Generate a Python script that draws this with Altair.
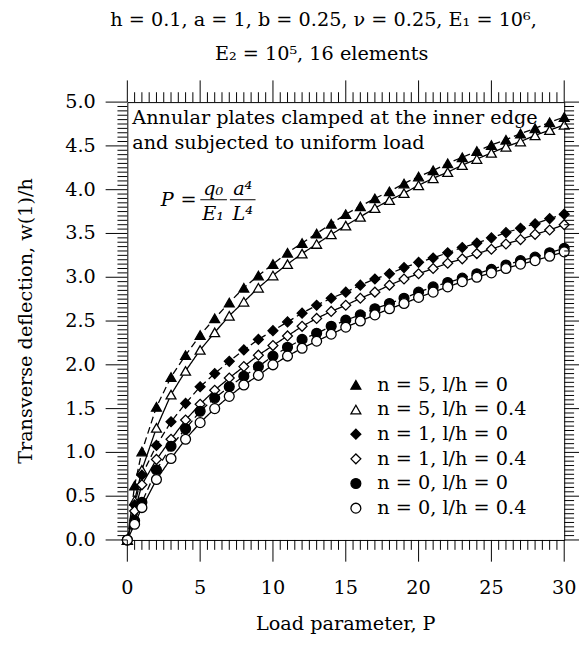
import altair as alt
import pandas as pd

# ---------------- data ----------------
P = [0, 0.5, 1, 2, 3, 4, 5, 6, 7, 8, 9, 10, 11, 12, 13, 14, 15,
     16, 17, 18, 19, 20, 21, 22, 23, 24, 25, 26, 27, 28, 29, 30]

tri_filled = [0, 0.62, 1.01, 1.52, 1.86, 2.11, 2.34, 2.53, 2.71, 2.88, 3.02, 3.15,
              3.28, 3.39, 3.50, 3.61, 3.72, 3.81, 3.90, 3.98, 4.07, 4.15, 4.22,
              4.30, 4.37, 4.44, 4.51, 4.57, 4.64, 4.70, 4.77, 4.83]
tri_open = [0, 0.45, 0.80, 1.28, 1.66, 1.93, 2.17, 2.37, 2.56, 2.72, 2.88, 3.02,
            3.15, 3.27, 3.38, 3.49, 3.59, 3.69, 3.79, 3.88, 3.96, 4.05, 4.13,
            4.20, 4.28, 4.35, 4.42, 4.49, 4.55, 4.62, 4.68, 4.74]
dia_filled = [0, 0.40, 0.74, 1.08, 1.35, 1.56, 1.75, 1.90, 2.04, 2.17, 2.29, 2.39,
              2.49, 2.59, 2.68, 2.76, 2.83, 2.91, 2.98, 3.04, 3.11, 3.17, 3.22,
              3.28, 3.34, 3.39, 3.45, 3.51, 3.56, 3.61, 3.67, 3.72]
dia_open = [0, 0.33, 0.63, 0.92, 1.15, 1.37, 1.55, 1.71, 1.85, 1.98, 2.11, 2.22,
            2.33, 2.44, 2.53, 2.61, 2.68, 2.76, 2.83, 2.91, 2.98, 3.04, 3.10,
            3.16, 3.21, 3.27, 3.32, 3.38, 3.43, 3.49, 3.54, 3.60]
cir_filled = [0, 0.22, 0.43, 0.80, 1.07, 1.27, 1.47, 1.62, 1.75, 1.87, 1.98, 2.10,
              2.20, 2.29, 2.36, 2.44, 2.51, 2.57, 2.64, 2.70, 2.76, 2.83, 2.89,
              2.94, 2.99, 3.04, 3.09, 3.14, 3.19, 3.23, 3.28, 3.33]
cir_open = [0, 0.18, 0.37, 0.69, 0.93, 1.15, 1.34, 1.50, 1.64, 1.77, 1.88, 2.00,
            2.10, 2.19, 2.27, 2.35, 2.43, 2.50, 2.57, 2.64, 2.70, 2.77, 2.83,
            2.89, 2.95, 3.00, 3.05, 3.10, 3.15, 3.19, 3.24, 3.29]

series_names = ["n = 5, l/h = 0", "n = 5, l/h = 0.4",
                "n = 1, l/h = 0", "n = 1, l/h = 0.4",
                "n = 0, l/h = 0", "n = 0, l/h = 0.4"]
series_values = [tri_filled, tri_open, dia_filled, dia_open, cir_filled, cir_open]
series_shapes = ["triangle-up", "triangle-up", "diamond", "diamond", "circle", "circle"]
series_fills = ["black", "white", "black", "white", "black", "white"]
series_dash = ["dashed", "solid", "dashed", "solid", "dashed", "solid"]

x_major = [0, 5, 10, 15, 20, 25, 30]
y_major = [0.0, 0.5, 1.0, 1.5, 2.0, 2.5, 3.0, 3.5, 4.0, 4.5, 5.0]
x_minor = [i * 0.5 for i in range(61) if i % 10 != 0]
y_minor = [round(i * 0.05, 2) for i in range(101) if i % 10 != 0]

rows = []
for name, vals, dash in zip(series_names, series_values, series_dash):
    for p, w in zip(P, vals):
        rows.append({"P": p, "w": w, "series": name, "dash": dash})
df = pd.DataFrame(rows)
one = pd.DataFrame({"k": [0]})

FONT = "DejaVu Serif"
FS = 19.5
W, H = 443, 444
X0, X1, Y0, Y1 = 0, 30, 0, 5
MAJ, MIN = 22, 10                      # tick lengths in pixels

xs = alt.Scale(domain=[X0, X1], nice=False, zero=False)
ys = alt.Scale(domain=[Y0, Y1], nice=False, zero=False)

# ---- tick segments (outward on all four sides), expressed in data units ----
px_x = (X1 - X0) / W                   # data units per pixel along x
px_y = (Y1 - Y0) / H                   # data units per pixel along y
tick_rows = []
for vals, n in ((x_major, MAJ), (x_minor, MIN)):
    for v in vals:
        tick_rows.append({"x": v, "x2": v, "y": Y0, "y2": Y0 - n * px_y})
        tick_rows.append({"x": v, "x2": v, "y": Y1, "y2": Y1 + n * px_y})
for vals, n in ((y_major, MAJ), (y_minor, MIN)):
    for v in vals:
        tick_rows.append({"x": X0, "x2": X0 - n * px_x, "y": v, "y2": v})
        tick_rows.append({"x": X1, "x2": X1 + n * px_x, "y": v, "y2": v})
tick_df = pd.DataFrame(tick_rows)

legend = alt.Legend(orient="none", legendX=222, legendY=277, title=None,
                    labelFont=FONT, labelFontSize=FS, labelColor="black",
                    symbolSize=100, symbolStrokeColor="black",
                    symbolStrokeWidth=1.3, rowPadding=4, labelOffset=12,
                    padding=0, labelLimit=400)

lines = alt.Chart(df).mark_line(color="black", strokeWidth=1.3).encode(
    x=alt.X("P:Q", scale=xs, axis=None),
    y=alt.Y("w:Q", scale=ys, axis=None),
    detail="series:N",
    strokeDash=alt.StrokeDash("dash:N", scale=alt.Scale(
        domain=["dashed", "solid"], range=[[7, 4], [1, 0]]), legend=None),
)

points = alt.Chart(df).mark_point(filled=True, strokeWidth=1.3,
                                  size=100, opacity=1).encode(
    x=alt.X("P:Q", scale=xs, axis=None),
    y=alt.Y("w:Q", scale=ys, axis=None),
    shape=alt.Shape("series:N", scale=alt.Scale(domain=series_names,
                                                range=series_shapes),
                    legend=legend),
    fill=alt.Fill("series:N", scale=alt.Scale(domain=series_names,
                                              range=series_fills),
                  legend=legend),
    stroke=alt.Stroke("series:N", scale=alt.Scale(domain=series_names,
                                                  range=["black"] * 6),
                      legend=legend),
)

ticks = alt.Chart(tick_df).mark_rule(color="black", strokeWidth=1,
                                     clip=False).encode(
    x=alt.X("x:Q", scale=xs, axis=None), x2="x2:Q",
    y=alt.Y("y:Q", scale=ys, axis=None), y2="y2:Q",
)

x_labels = alt.Chart(pd.DataFrame({"v": x_major})).mark_text(
    font=FONT, fontSize=FS, color="black", baseline="middle", align="center"
).encode(x=alt.X("v:Q", scale=xs, axis=None), y=alt.value(H + 49),
         text=alt.Text("v:Q", format="d"))

y_labels = alt.Chart(pd.DataFrame({"u": y_major})).mark_text(
    font=FONT, fontSize=FS, color="black", baseline="middle", align="right"
).encode(y=alt.Y("u:Q", scale=ys, axis=None), x=alt.value(-32),
         text=alt.Text("u:Q", format=".1f"))


def txt(s, x, y, align="left", style="normal", size=FS, angle=0):
    return alt.Chart(one).mark_text(text=s, align=align, baseline="middle",
                                    font=FONT, fontSize=size, fontStyle=style,
                                    angle=angle, color="black").encode(
        x=alt.value(x), y=alt.value(y))


def bar(x1, x2, y):
    return alt.Chart(one).mark_rule(color="black", strokeWidth=1).encode(
        x=alt.value(x1), x2=alt.value(x2), y=alt.value(y))


texts = [
    txt("h = 0.1,  a = 1,  b = 0.25,  ν = 0.25, E₁ = 10⁶,", 199, -83, "center"),
    txt("E₂ = 10⁵, 16 elements", 197, -49, "center"),
    txt("Load parameter, P", W / 2, H + 85, "center"),
    txt("Transverse deflection, w(1)/h", -103, H / 2, "center", angle=270),
    txt("Annular plates clamped at the inner edge", 5, 16),
    txt("and subjected to uniform load", 5, 42),
    txt("P", 34, 99, style="italic"),
    txt("=", 54, 99),
    txt("q₀", 87, 88, "center", "italic"),
    txt("E₁", 87, 114, "center", "italic"),
    txt("a⁴", 117, 88, "center", "italic"),
    txt("L⁴", 117, 114, "center", "italic"),
    bar(74, 101, 99),
    bar(104, 130, 99),
]

chart = alt.layer(lines, points, ticks, x_labels, y_labels, *texts).properties(
    width=W, height=H,
    autosize=alt.AutoSizeParams(type="none"),
    padding={"left": 121, "top": 91, "right": 15, "bottom": 97},
).configure_view(stroke="black", strokeWidth=1)

chart.save("out.html", embed_options={"renderer": "svg", "actions": False})
